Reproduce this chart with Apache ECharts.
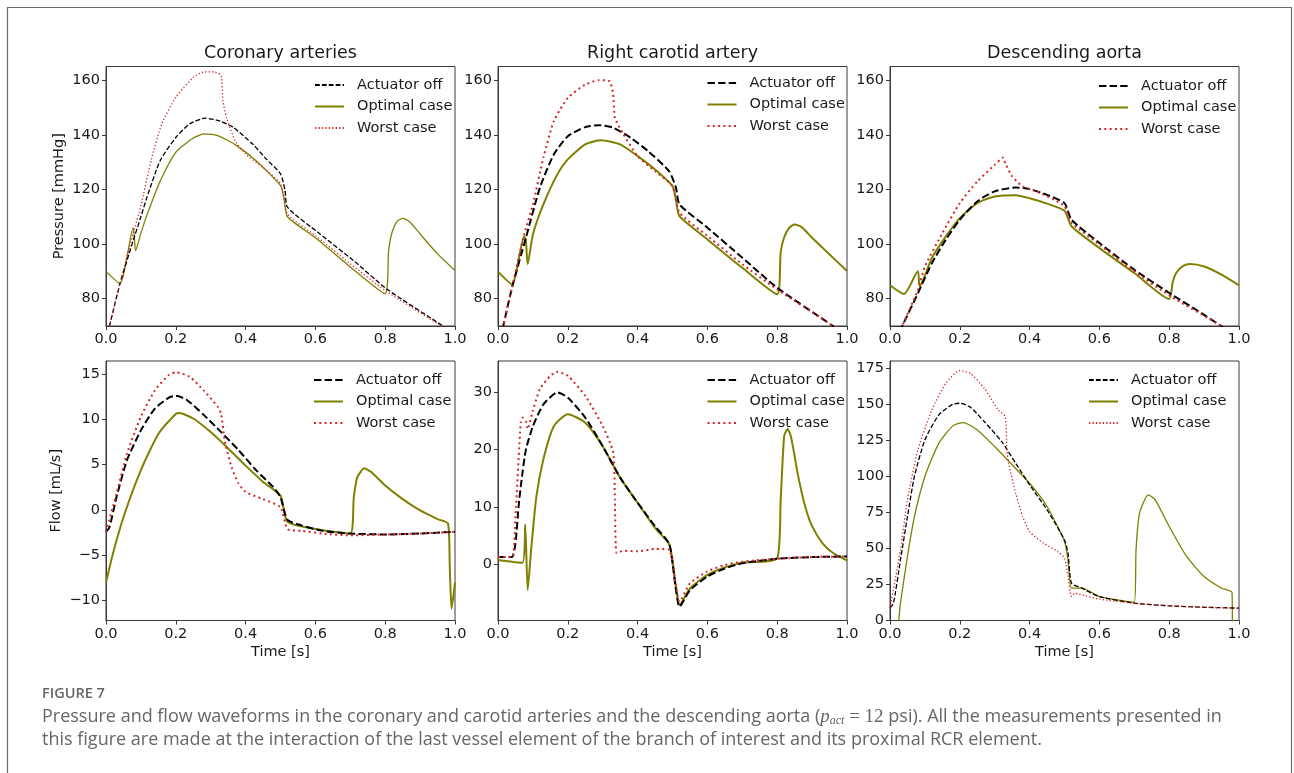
<!DOCTYPE html>
<html>
<head>
<meta charset="utf-8">
<script src="https://cdn.jsdelivr.net/npm/echarts@6/dist/echarts.min.js"></script>
<style>html,body{margin:0;padding:0;background:#fff}#chart{width:1294px;height:773px}</style>
</head>
<body>
<div id="chart"></div>
<script>
// ---------------- DATA ----------------
const panelTitles = ['Coronary arteries', 'Right carotid artery', 'Descending aorta'];
const seriesNames = ['Actuator off', 'Optimal case', 'Worst case'];
const xTicks = [0, 0.2, 0.4, 0.6, 0.8, 1.0];
const pressureTicks = [80, 100, 120, 140, 160];
const coronaryFlowTicks = [-10, -5, 0, 5, 10, 15];
const carotidFlowTicks = [0, 10, 20, 30];
const aortaFlowTicks = [0, 25, 50, 75, 100, 125, 150, 175];

// Coronary pressure [t, mmHg]
const coronaryPressureOff = [[0,65],[0.01,70],[0.04,85.5],[0.078,101.3],[0.1,110],[0.117,117],[0.155,130.5],[0.2,139],[0.24,144],[0.284,146.1],[0.327,145],[0.365,142.7],[0.42,136.6],[0.46,131],[0.5,125.7],[0.513,119.6],[0.52,113.5],[0.613,103.7],[0.709,94],[0.804,83.6],[0.962,70.3],[1.0,67]];
const coronaryPressureOpt = [[0,90],[0.04,85.5],[0.078,106],[0.085,97.6],[0.1,104],[0.117,110.5],[0.155,123],[0.2,133.6],[0.25,138.8],[0.28,140.3],[0.32,139.7],[0.37,136.4],[0.43,130.5],[0.5,121.4],[0.51,117],[0.52,110],[0.6,102.3],[0.7,91.6],[0.8,81.8],[0.81,98],[0.82,104.5],[0.835,108.5],[0.85,109.4],[0.87,108.2],[0.9,103.7],[0.95,96.4],[1.0,90.3]];
const coronaryPressureWorst = [[0,65],[0.01,70],[0.04,85.5],[0.078,104],[0.1,114],[0.13,131],[0.16,144],[0.2,153.7],[0.25,161],[0.28,163],[0.31,163],[0.33,161.6],[0.335,152.5],[0.345,146.4],[0.37,137.8],[0.4,133],[0.45,128],[0.5,122],[0.52,111],[0.6,103.1],[0.7,92.8],[0.8,83],[0.96,70],[1.0,66]];

// Carotid pressure
const carotidPressureOff = [[0,61.6],[0.015,70],[0.04,84],[0.08,102.3],[0.12,120.6],[0.16,132.8],[0.2,139.5],[0.25,142.8],[0.29,143.5],[0.33,142.6],[0.38,138.9],[0.43,134],[0.49,126.7],[0.51,120.6],[0.52,114.5],[0.6,106],[0.7,95],[0.8,84],[0.96,70],[1,66.5]];
const carotidPressureOpt = [[0,89.9],[0.04,85.2],[0.075,102.9],[0.08,101],[0.085,92.6],[0.1,103.5],[0.13,114.5],[0.17,125.5],[0.2,131],[0.25,136.5],[0.295,138],[0.35,136.5],[0.4,132.2],[0.45,127.3],[0.5,121.2],[0.51,116],[0.52,110.2],[0.6,101.7],[0.7,91.3],[0.8,81.6],[0.81,97],[0.82,102.5],[0.835,106],[0.85,107.2],[0.87,106.2],[0.9,102.3],[0.95,96.2],[1.0,90.1]];
const carotidPressureWorst = [[0,61.6],[0.015,70],[0.04,84],[0.075,103.5],[0.1,114.5],[0.13,131.6],[0.16,145],[0.2,153.5],[0.25,158.4],[0.29,160],[0.32,159.6],[0.33,154.8],[0.335,146.2],[0.36,140.1],[0.4,132.2],[0.45,126.7],[0.5,121.2],[0.52,111.5],[0.6,103],[0.7,92.6],[0.8,83.4],[0.96,70],[1,66.5]];

// Aorta pressure
const aortaPressureOff = [[0,61],[0.035,70],[0.08,82],[0.12,93],[0.16,101.6],[0.2,108.9],[0.25,115.6],[0.3,119.3],[0.36,120.7],[0.4,120.1],[0.45,118],[0.5,115],[0.52,108.9],[0.6,100.4],[0.7,90.6],[0.8,82.1],[0.9,74.1],[0.95,69.9],[1,66]];
const aortaPressureOpt = [[0,84.9],[0.04,81.7],[0.08,90],[0.085,84.5],[0.12,94.9],[0.16,102.8],[0.2,109.5],[0.25,115],[0.3,117.4],[0.36,117.9],[0.4,116.8],[0.45,114.8],[0.5,112.2],[0.52,106.5],[0.6,98.5],[0.7,89.4],[0.8,79.9],[0.81,86],[0.82,89.4],[0.84,92],[0.86,92.7],[0.9,91.8],[0.95,88.8],[1.0,84.9]];
const aortaPressureWorst = [[0,60],[0.035,70],[0.08,83.3],[0.1,91.8],[0.15,104],[0.2,115],[0.25,122.9],[0.3,129],[0.325,131.7],[0.33,129.6],[0.35,124.8],[0.38,121.1],[0.42,119.3],[0.47,116.2],[0.5,113.8],[0.52,107.9],[0.6,99.8],[0.7,90],[0.8,81.2],[0.95,70],[1,66]];

// Coronary flow [t, mL/s]
const coronaryFlowOff = [[0,-2.4],[0.01,-1.9],[0.03,1.4],[0.06,5.5],[0.1,8.8],[0.14,11.2],[0.18,12.4],[0.2,12.6],[0.23,12.2],[0.28,10.5],[0.33,8.6],[0.38,6.6],[0.43,4.4],[0.48,2.5],[0.5,1.4],[0.52,-1.1],[0.56,-1.7],[0.62,-2.3],[0.7,-2.6],[0.8,-2.7],[0.9,-2.6],[1,-2.4]];
const coronaryFlowOpt = [[0,-8],[0.02,-4.8],[0.05,-0.8],[0.1,4.4],[0.15,8.4],[0.2,10.6],[0.21,10.7],[0.25,10.1],[0.3,8.6],[0.35,6.8],[0.4,4.9],[0.45,3.1],[0.5,1.6],[0.52,-1.3],[0.6,-2.1],[0.7,-2.6],[0.71,1.4],[0.72,3.6],[0.74,4.6],[0.76,4.2],[0.8,2.7],[0.85,1.2],[0.9,-0.05],[0.95,-1.0],[0.98,-1.5],[0.985,-6.3],[0.99,-10.9],[0.995,-9.6],[1,-8]];
const coronaryFlowWorst = [[0,-2.4],[0.03,1.8],[0.06,6.2],[0.1,10.3],[0.14,13.2],[0.18,14.9],[0.2,15.2],[0.24,14.7],[0.28,13.2],[0.32,11.4],[0.33,10.6],[0.34,7.7],[0.36,4.7],[0.38,2.9],[0.4,2.0],[0.45,1.2],[0.5,0.3],[0.52,-2.1],[0.56,-2.3],[0.62,-2.6],[0.7,-2.8],[0.8,-2.7],[0.9,-2.6],[1,-2.4]];

// Carotid flow
const carotidFlowOff = [[0,1.2],[0.04,1.2],[0.05,3.6],[0.06,10.7],[0.07,15.9],[0.08,20],[0.1,24.1],[0.13,27.9],[0.17,30],[0.2,29.1],[0.25,25.6],[0.3,20.6],[0.35,15.1],[0.4,10.7],[0.45,6.6],[0.49,3.6],[0.5,0.1],[0.51,-4.6],[0.52,-7.5],[0.55,-4.6],[0.6,-2.2],[0.65,-0.8],[0.7,0.1],[0.8,0.9],[0.9,1.2],[1,1.3]];
const carotidFlowOpt = [[0,0.7],[0.07,0.2],[0.078,6.9],[0.085,-4.6],[0.095,2.5],[0.11,11.8],[0.13,18.3],[0.16,24.1],[0.2,26.2],[0.25,24.7],[0.3,20.6],[0.35,15.1],[0.4,10.7],[0.45,6.3],[0.49,3.5],[0.5,0.7],[0.51,-4],[0.52,-7.2],[0.55,-4.3],[0.6,-1.9],[0.65,-0.6],[0.7,0.2],[0.8,1.0],[0.81,11.2],[0.82,22.4],[0.83,23.6],[0.84,22.1],[0.86,15.4],[0.88,10.1],[0.9,6.6],[0.93,3.6],[0.96,1.9],[1,0.6]];
const carotidFlowWorst = [[0,1.2],[0.04,1.2],[0.05,8.3],[0.065,24.7],[0.07,25.6],[0.08,25],[0.085,23.6],[0.1,26.8],[0.12,30.6],[0.15,32.9],[0.17,33.6],[0.2,32.9],[0.25,29.4],[0.3,24.1],[0.33,19.5],[0.335,11.2],[0.34,1.9],[0.36,2.3],[0.4,2.2],[0.45,2.6],[0.49,2.5],[0.5,0.1],[0.51,-4],[0.52,-6.6],[0.55,-3.4],[0.6,-1.3],[0.65,-0.2],[0.7,0.4],[0.8,0.9],[0.9,1.2],[1,1.3]];

// Aorta flow
const aortaFlowOff = [[0,8.6],[0.01,12],[0.03,42],[0.05,72],[0.07,100],[0.1,125.3],[0.14,142.6],[0.18,150],[0.2,150.7],[0.23,148],[0.27,138],[0.32,124.1],[0.36,109.1],[0.4,94.1],[0.45,76.8],[0.5,55.9],[0.51,46.7],[0.52,25.9],[0.55,22.4],[0.6,16.6],[0.7,12],[0.8,10.2],[0.9,9.2],[1,8.6]];
const aortaFlowOpt = [[0,-50],[0.025,0],[0.03,12],[0.05,44.4],[0.07,72.1],[0.1,99.9],[0.14,123],[0.18,135],[0.21,137.3],[0.25,132.2],[0.3,120.7],[0.35,108],[0.4,95.2],[0.45,79.1],[0.5,54.8],[0.51,42.1],[0.52,22.4],[0.55,22.4],[0.6,16.6],[0.7,12.5],[0.705,49],[0.715,74.4],[0.74,87.2],[0.76,83.7],[0.8,65.2],[0.85,44.4],[0.9,30.5],[0.95,22.4],[0.98,19.4],[0.982,-20],[1,-20]];
const aortaFlowWorst = [[0,8.6],[0.03,49],[0.05,83.7],[0.08,118.4],[0.12,146.1],[0.16,164.6],[0.2,173.4],[0.23,171.5],[0.27,161.1],[0.31,146.1],[0.33,141.5],[0.335,118.4],[0.34,109.1],[0.36,88.3],[0.38,72.1],[0.4,61.7],[0.44,53.6],[0.48,47.9],[0.5,43.2],[0.51,30.5],[0.52,16.6],[0.53,19],[0.56,17.1],[0.6,14.8],[0.7,12],[0.8,10.2],[0.9,9.2],[1,8.6]];

// ---------------- LAYOUT / STYLE ----------------
const FONT = 'DejaVu Sans';
const TXT = '#1a1a1a';
const AX = '#3a3a3a';
const COLORS = ['#000000', '#808000', '#d62728'];
const colL = [106, 498, 890], gridW = 349;
const rowT = [66.5, 361], gridH = [259.5, 259.5];

const panels = [
  {row:0,col:0,data:[coronaryPressureOff,coronaryPressureOpt,coronaryPressureWorst],ymin:70,ymax:165,ticks:pressureTicks,lw:1.3,ylabel:'Pressure [mmHg]',leg:[314,77.5]},
  {row:0,col:1,data:[carotidPressureOff,carotidPressureOpt,carotidPressureWorst],ymin:70,ymax:165,ticks:pressureTicks,lw:2,leg:[706.5,75.5]},
  {row:0,col:2,data:[aortaPressureOff,aortaPressureOpt,aortaPressureWorst],ymin:70,ymax:165,ticks:pressureTicks,lw:2,leg:[1098,78.5]},
  {row:1,col:0,data:[coronaryFlowOff,coronaryFlowOpt,coronaryFlowWorst],ymin:-12.2,ymax:16.45,ticks:coronaryFlowTicks,lw:2,ylabel:'Flow [mL/s]',leg:[313,372.5]},
  {row:1,col:1,data:[carotidFlowOff,carotidFlowOpt,carotidFlowWorst],ymin:-9.9,ymax:35.5,ticks:carotidFlowTicks,lw:2,leg:[706.5,372.5]},
  {row:1,col:2,data:[aortaFlowOff,aortaFlowOpt,aortaFlowWorst],ymin:0,ymax:180,ticks:aortaFlowTicks,lw:1.3,leg:[1088,372.5]}
];

function dashFor(k, lw) {
  if (k === 0) return [3.7 * lw, 1.6 * lw];
  if (k === 2) return [1 * lw, 1.65 * lw];
  return 'solid';
}
const fmtNum = v => (v < 0 ? '\u2212' + Math.abs(v) : String(v));

const grid = [], xAxis = [], yAxis = [], series = [], legend = [];
panels.forEach((p, i) => {
  grid.push({left: colL[p.col], top: rowT[p.row], width: gridW, height: gridH[p.row],
    show: true, borderColor: AX, borderWidth: 1, backgroundColor: 'transparent'});
  xAxis.push({type: 'value', gridIndex: i, min: 0, max: 1,
    name: p.row === 1 ? 'Time [s]' : '', nameLocation: 'middle', nameGap: 24,
    nameTextStyle: {fontFamily: FONT, fontSize: 14.5, color: TXT},
    axisLine: {show: true, onZero: false, lineStyle: {color: AX, width: 1}},
    axisTick: {show: true, inside: false, length: 4, lineStyle: {color: AX}, customValues: xTicks},
    axisLabel: {show: true, margin: 6, fontFamily: FONT, fontSize: 14.5, color: TXT,
      customValues: xTicks, formatter: v => Number(v).toFixed(1)},
    splitLine: {show: false}});
  yAxis.push({type: 'value', gridIndex: i, min: p.ymin, max: p.ymax,
    name: p.ylabel || '', nameLocation: 'middle', nameGap: p.row === 0 ? 39 : 42,
    nameTextStyle: {fontFamily: FONT, fontSize: 14.5, color: TXT},
    axisLine: {show: true, onZero: false, lineStyle: {color: AX, width: 1}},
    axisTick: {show: true, inside: false, length: 4, lineStyle: {color: AX}, customValues: p.ticks},
    axisLabel: {show: true, margin: 6, fontFamily: FONT, fontSize: 14.5, color: TXT,
      customValues: p.ticks, formatter: v => fmtNum(Number(v))},
    splitLine: {show: false}});
  const names = [];
  p.data.forEach((d, k) => {
    const nm = seriesNames[k] + '#' + i;
    names.push(nm);
    series.push({type: 'line', name: nm, xAxisIndex: i, yAxisIndex: i, data: d,
      symbol: 'none', showSymbol: false, clip: true, animation: false,
      smooth: 0.2,
      z: k === 1 ? 3 : (k === 0 ? 4 : 5),
      lineStyle: {color: COLORS[k], width: p.lw, type: dashFor(k, p.lw)},
      itemStyle: {color: COLORS[k]}, emphasis: {disabled: true}});
  });
  legend.push({data: names, orient: 'vertical', left: p.leg[0], top: p.leg[1],
    itemWidth: 29, itemHeight: 15, itemGap: 6.5, selectedMode: false, padding: 0,
    itemStyle: {opacity: 0, borderWidth: 0},
    formatter: n => n.split('#')[0],
    textStyle: {fontFamily: FONT, fontSize: 14.5, color: TXT, lineHeight: 15, padding: [0, 0, 0, 8]}});
});

const graphic = [
  {type: 'rect', silent: true, shape: {x: 7.5, y: 7.5, width: 1284, height: 800},
   style: {fill: null, stroke: '#6e6e6e', lineWidth: 1.2}},
];
const titleX = colL.map(l => l + gridW / 2);
panelTitles.forEach((t, j) => graphic.push({type: 'text', silent: true, x: titleX[j], y: 53,
  style: {text: t, font: '17.5px "DejaVu Sans"', fill: TXT, align: 'center', verticalAlign: 'middle'}}));

const CAP = '"Open Sans"';
graphic.push({type: 'text', silent: true, x: 42, y: 694,
  style: {text: 'FIGURE 7', font: '600 14.5px ' + CAP, fill: '#666', align: 'left', verticalAlign: 'middle'}});
graphic.push({type: 'text', silent: true, x: 42, y: 717,
  style: {text: 'Pressure and flow waveforms in the coronary and carotid arteries and the descending aorta ({m|p}{s|act}{e| = 12} psi). All the measurements presented in',
    font: '18px ' + CAP, fill: '#666', align: 'left', verticalAlign: 'middle',
    rich: {
      m: {fontFamily: 'Liberation Serif', fontStyle: 'italic', fontSize: 19, fill: '#666'},
      s: {fontFamily: 'Liberation Serif', fontStyle: 'italic', fontSize: 12, fill: '#666', padding: [8, 0, 0, 0]},
      e: {fontFamily: 'Liberation Serif', fontSize: 19, fill: '#666'}
    }}});
graphic.push({type: 'text', silent: true, x: 42, y: 740,
  style: {text: 'this figure are made at the interaction of the last vessel element of the branch of interest and its proximal RCR element.',
    font: '18px ' + CAP, fill: '#666', align: 'left', verticalAlign: 'middle'}});

const chart = echarts.init(document.getElementById('chart'), null, {renderer: 'canvas'});
chart.setOption({animation: false, backgroundColor: '#fff', grid, xAxis, yAxis, series, legend, graphic, tooltip: {show: false}});
</script>
</body>
</html>
